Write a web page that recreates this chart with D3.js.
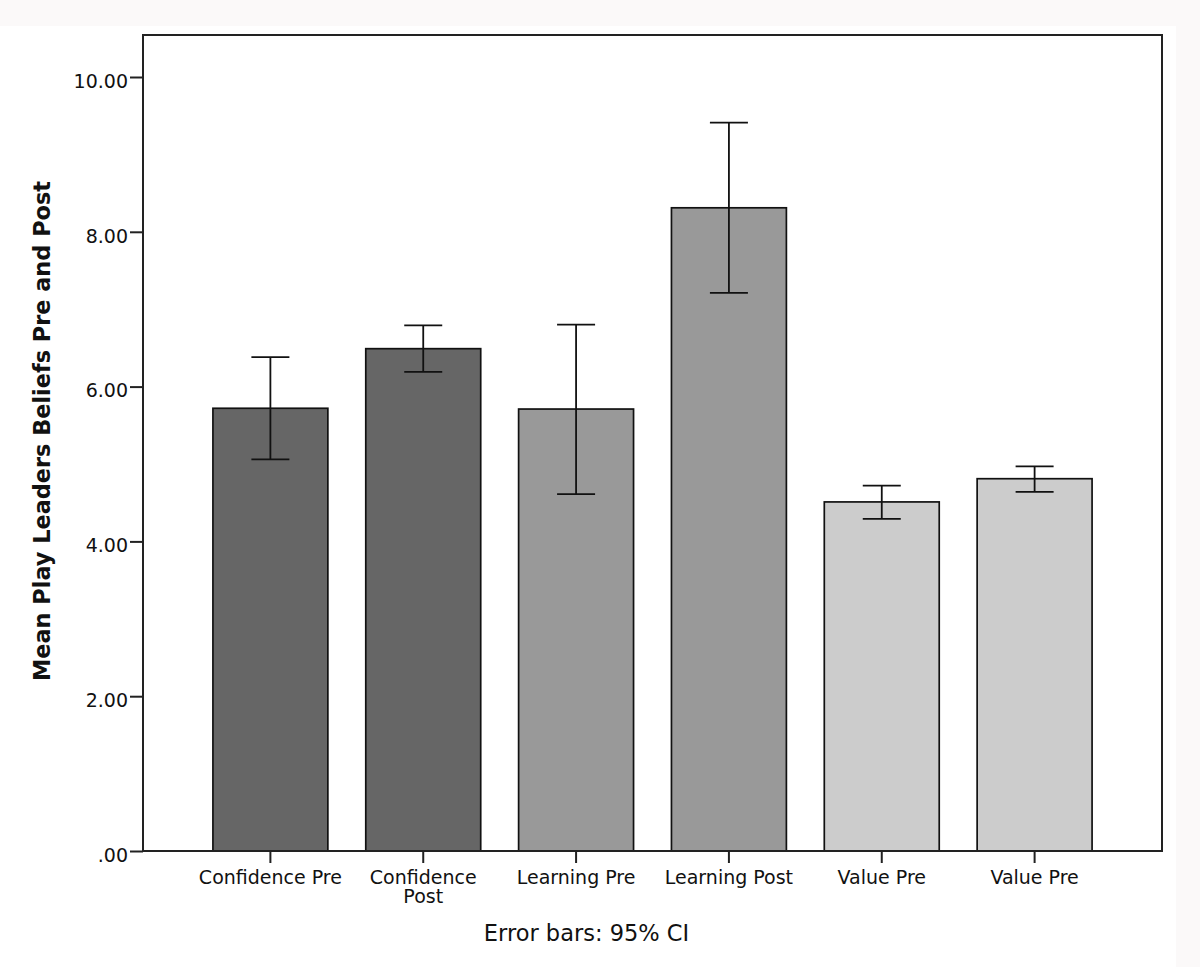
<!DOCTYPE html>
<html>
<head>
<meta charset="utf-8">
<script src="https://cdn.jsdelivr.net/npm/d3@7"></script>
<style>
  html, body { margin: 0; padding: 0; background: #fbf9f9; }
  svg { display: block; }
  text { font-family: "DejaVu Sans", sans-serif; fill: #111; }
</style>
</head>
<body>
<div id="chart"></div>
<script>
// Bar means and 95% CI limits
const categories = ['Confidence Pre', 'Confidence Post', 'Learning Pre', 'Learning Post', 'Value Pre', 'Value Pre'];
const labelLines = [['Confidence Pre'], ['Confidence', 'Post'], ['Learning Pre'], ['Learning Post'], ['Value Pre'], ['Value Pre']];
const means      = [5.72, 6.49, 5.71, 8.31, 4.51, 4.81];
const ciLow      = [5.06, 6.19, 4.61, 7.21, 4.29, 4.64];
const ciHigh     = [6.38, 6.79, 6.80, 9.41, 4.72, 4.97];
const groups     = ['Confidence', 'Confidence', 'Learning', 'Learning', 'Value', 'Value'];
const yTicks      = [0, 2, 4, 6, 8, 10];
const yTickLabels = ['.00', '2.00', '4.00', '6.00', '8.00', '10.00'];

const W = 1200, H = 967;
const frame = { left: 143, right: 1162, top: 35, bottom: 851 };

const svg = d3.select('#chart').append('svg')
  .attr('width', W).attr('height', H);

// white page area (the photo has a faint off-white strip top and right)
svg.append('rect')
  .attr('x', 0).attr('y', 26).attr('width', 1176).attr('height', H - 26)
  .attr('fill', '#fff');

const x = d3.scaleBand()
  .domain(d3.range(categories.length))
  .range([frame.left, frame.right])
  .paddingInner(0.248)
  .paddingOuter(0.4575);

const y = d3.scaleLinear().domain([0, 10]).range([frame.bottom, 77]);

const color = d3.scaleOrdinal()
  .domain(['Confidence', 'Learning', 'Value'])
  .range(['#666666', '#999999', '#cccccc']);

// bars
svg.append('g').selectAll('rect')
  .data(means)
  .join('rect')
  .attr('x', (d, i) => x(i))
  .attr('width', x.bandwidth())
  .attr('y', d => y(d))
  .attr('height', d => y(0) - y(d))
  .attr('fill', (d, i) => color(groups[i]))
  .attr('stroke', '#111')
  .attr('stroke-width', 1.7);

// error bars
const capW = 38;
const eb = svg.append('g').attr('stroke', '#111').attr('stroke-width', 1.8);
means.forEach((m, i) => {
  const cx = x(i) + x.bandwidth() / 2;
  eb.append('line').attr('x1', cx).attr('x2', cx).attr('y1', y(ciLow[i])).attr('y2', y(ciHigh[i]));
  eb.append('line').attr('x1', cx - capW / 2).attr('x2', cx + capW / 2).attr('y1', y(ciHigh[i])).attr('y2', y(ciHigh[i]));
  eb.append('line').attr('x1', cx - capW / 2).attr('x2', cx + capW / 2).attr('y1', y(ciLow[i])).attr('y2', y(ciLow[i]));
});

// frame
svg.append('rect')
  .attr('x', frame.left).attr('y', frame.top)
  .attr('width', frame.right - frame.left).attr('height', frame.bottom - frame.top)
  .attr('fill', 'none').attr('stroke', '#222').attr('stroke-width', 2);

// y axis
const yAxis = svg.append('g')
  .attr('transform', `translate(${frame.left},0)`)
  .call(d3.axisLeft(y).tickValues(yTicks).tickFormat((d, i) => yTickLabels[i]).tickSize(13).tickPadding(2));
yAxis.select('.domain').remove();
yAxis.selectAll('.tick line').attr('stroke', '#222').attr('stroke-width', 2);
yAxis.selectAll('.tick text')
  .attr('dy', '0.54em')
  .attr('font-size', 19)
  .attr('font-family', '"DejaVu Sans", sans-serif')
  .attr('fill', '#111');

// x axis
const xAxis = svg.append('g')
  .attr('transform', `translate(0,${frame.bottom})`)
  .call(d3.axisBottom(x).tickSize(12).tickFormat(''));
xAxis.select('.domain').remove();
xAxis.selectAll('.tick line').attr('stroke', '#222').attr('stroke-width', 2);
xAxis.selectAll('.tick text').remove();
xAxis.selectAll('.tick').each(function (d) {
  const t = d3.select(this).append('text')
    .attr('text-anchor', 'middle')
    .attr('font-size', 19)
    .attr('font-family', '"DejaVu Sans", sans-serif')
    .attr('fill', '#111');
  labelLines[d].forEach((line, k) => {
    t.append('tspan').attr('x', 0).attr('y', 33 + k * 19).text(line);
  });
});

// y axis title
svg.append('text')
  .attr('transform', 'translate(50,431) rotate(-90)')
  .attr('text-anchor', 'middle')
  .attr('font-size', 22.4)
  .attr('font-weight', 'bold')
  .text('Mean Play Leaders Beliefs Pre and Post');

// footnote
svg.append('text')
  .attr('x', 586.5).attr('y', 941)
  .attr('text-anchor', 'middle')
  .attr('font-size', 22.5)
  .text('Error bars: 95% CI');
</script>
</body>
</html>
